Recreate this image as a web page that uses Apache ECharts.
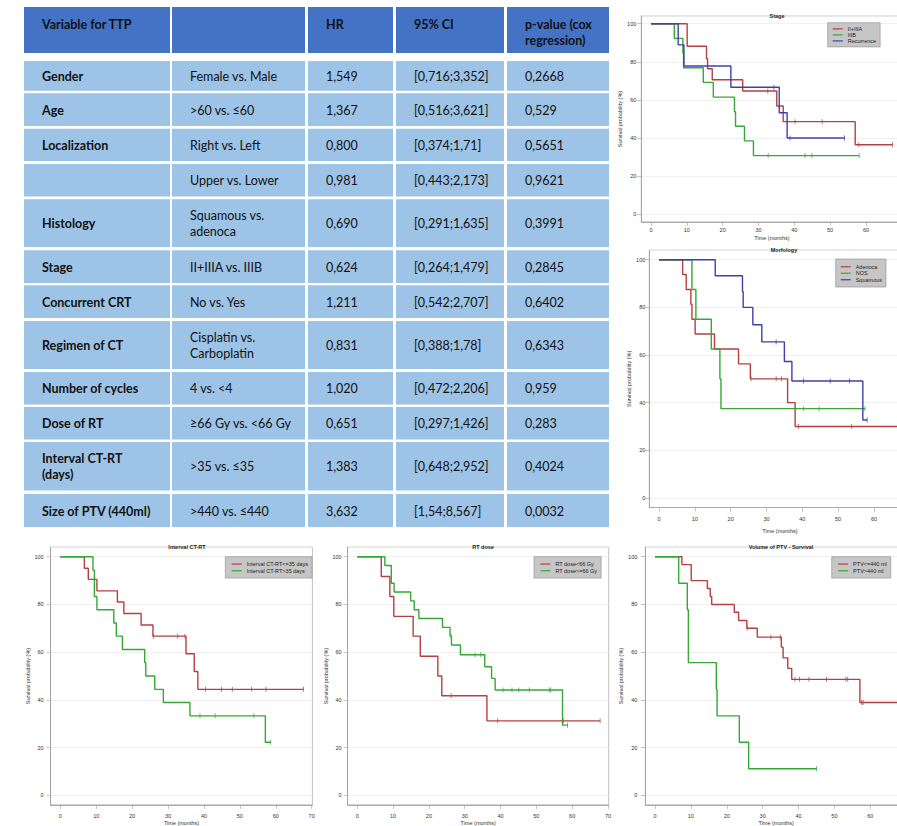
<!DOCTYPE html>
<html>
<head>
    <meta charset="utf-8">
    <title>TTP - Cox regression and Kaplan-Meier curves</title>
    <script src="https://cdn.jsdelivr.net/npm/echarts@6/dist/echarts.min.js"></script>
    <style>
        html, body { margin: 0; padding: 0; background: #fff; }
        #main { width: 897px; height: 826px; }
    </style>
</head>
<body>
<div id="main"></div>
<script type="text/javascript">
// ---- table data ----
var headers = ['Variable for TTP', '', 'HR', '95% CI', 'p-value (cox\nregression)'];
var variables = ['Gender', 'Age', 'Localization', '', 'Histology', 'Stage', 'Concurrent CRT',
    'Regimen of CT', 'Number of cycles', 'Dose of RT', 'Interval CT-RT\n(days)', 'Size of PTV (440ml)'];
var comparisons = ['Female vs. Male', '>60 vs. ≤60', 'Right vs. Left', 'Upper vs. Lower', 'Squamous vs.\nadenoca',
    'II+IIIA vs. IIIB', 'No vs. Yes', 'Cisplatin vs.\nCarboplatin', '4 vs. <4', '≥66 Gy vs. <66 Gy', '>35 vs. ≤35', '>440 vs. ≤440'];
var hrValues = ['1,549', '1,367', '0,800', '0,981', '0,690', '0,624', '1,211', '0,831', '1,020', '0,651', '1,383', '3,632'];
var ciValues = ['[0,716;3,352]', '[0,516;3,621]', '[0,374;1,71]', '[0,443;2,173]', '[0,291;1,635]', '[0,264;1,479]',
    '[0,542;2,707]', '[0,388;1,78]', '[0,472;2,206]', '[0,297;1,426]', '[0,648;2,952]', '[1,54;8,567]'];
var pValues = ['0,2668', '0,529', '0,5651', '0,9621', '0,3991', '0,2845', '0,6402', '0,6343', '0,959', '0,283', '0,4024', '0,0032'];

// ---- Kaplan-Meier curves [months, survival %] ----
// Stage
var stageIIA = [[0,100],[10.1,88.2],[15.5,81.6],[15.8,76.4],[17.1,70.6],[25.6,64.7],[35.1,56.8],[36.9,48.6],[57.0,36.5],[67.4,36.5]];
var stageIIACens = [[32.6,64.7],[40.2,48.6],[47.8,48.6],[58.0,36.5],[67.4,36.5]];
var stageIIIB = [[0,100],[6.5,92.3],[8.9,84.6],[9.1,76.9],[14.6,69.2],[17.4,61.5],[23.3,53.8],[23.6,46.2],[26.1,38.5],[28.6,30.8],[58.1,30.8]];
var stageIIIBCens = [[32.7,30.8],[43.0,30.8],[44.9,30.8],[58.1,30.8]];
var stageRec = [[0,100],[7.6,88.9],[9.2,77.8],[22.3,66.7],[35.8,53.3],[38.0,40.0],[54.0,40.0]];
var stageRecCens = [[34.3,66.7],[38.8,40.0],[54.0,40.0]];
// Morfology
var morfAdeno = [[0,100],[6.6,93.8],[7.6,87.5],[8.9,81.3],[9.2,75],[10.1,68.8],[15.5,62.5],[22.2,56.3],[25.5,50],[35.9,40],[38.0,30],[67.5,30]];
var morfAdenoCens = [[25.7,50],[32.7,50],[34.2,50],[38.9,30],[53.8,30]];
var morfNos = [[0,100],[9.2,87.5],[10.3,75],[14.6,62.5],[17.0,50],[17.3,37.5],[57.5,37.5]];
var morfNosCens = [[40.4,37.5],[44.7,37.5],[57.5,37.5]];
var morfSq = [[0,100],[15.7,93.3],[23.3,86.7],[23.5,80],[26.2,72.7],[28.7,65.5],[35.0,57.3],[37.1,49.1],[56.9,32.7],[58.1,32.7]];
var morfSqCens = [[32.7,65.5],[40.3,49.1],[47.8,49.1],[53.2,49.1],[58.1,32.7]];
// Interval CT-RT
var intShort = [[0,100],[6.7,95.2],[7.8,90.5],[10.2,85.7],[15.9,81],[17.7,76.2],[22.5,71.4],[25.8,66.7],[35.0,59.3],[37.3,51.9],[38.3,44.4],[67.7,44.4]];
var intShortCens = [[25.9,66.7],[32.7,66.7],[34.7,66.7],[40.4,44.4],[44.9,44.4],[47.9,44.4],[53.3,44.4],[57.3,44.4],[67.7,44.4]];
var intLong = [[0,100],[9.1,94.4],[9.5,83.3],[10.2,77.8],[14.9,72.2],[15.6,66.7],[17.3,61.1],[23.5,55.6],[23.8,50],[26.3,44.4],[28.7,38.9],[36.1,33.3],[57.1,22.2],[58.6,22.2]];
var intLongCens = [[38.9,33.3],[43.1,33.3],[53.9,33.3],[58.6,22.2]];
// RT dose
var doseLow = [[0,100],[6.7,91.7],[9.1,83.3],[10.2,75],[15.6,66.7],[17.6,58.3],[22.5,50],[23.6,41.7],[36.2,31.2],[67.8,31.2]];
var doseLowCens = [[26.2,41.7],[39.2,31.2],[57.5,31.2],[67.8,31.2]];
var doseHigh = [[0,100],[7.7,96.3],[9.5,88.9],[10.3,85.2],[14.9,81.5],[15.9,77.8],[17.2,74.1],[23.8,70.4],[25.9,66.7],[26.3,63],[28.8,58.9],[35.6,53.9],[37.5,49],[38.5,44.1],[57.3,29.4],[58.7,29.4]];
var doseHighCens = [[26.2,66.7],[32.9,58.9],[34.5,58.9],[40.7,44.1],[43.2,44.1],[45.1,44.1],[48.0,44.1],[53.6,44.1],[54.0,44.1],[58.7,29.4]];
// Volume of PTV
var ptvSmall = [[0,100],[7.5,96.7],[10.1,90],[14.6,86.7],[15.4,83.3],[15.8,80],[22.1,76.7],[23.3,73.3],[25.6,70],[28.5,66.3],[35.2,62.1],[35.7,57.6],[37.0,53.2],[38.1,48.6],[57.1,38.9],[67.5,38.9]];
var ptvSmallCens = [[25.7,70],[32.3,66.3],[34.9,66.3],[39.0,48.6],[40.3,48.6],[42.9,48.6],[47.8,48.6],[53.2,48.6],[53.7,48.6],[57.6,38.9],[58.0,38.9]];
var ptvLarge = [[0,100],[6.6,88.9],[9.0,77.8],[9.3,55.6],[17.1,44.4],[17.3,33.3],[23.5,22.2],[26.1,11.1],[45.0,11.1]];
var ptvLargeCens = [[45.0,11.1]];

var RED = '#b5403f', GREEN = '#35a835', BLUE = '#3f3fae';

var panels = [
    { title: 'Stage', tx: 772, ty: 11, grid: { left: 641.3, top: 16.1, width: 261.2, height: 205.8 },
      yGap: 16.5, yMargin: 5, xMargin: 5, xGap: 13, xLabelMax: 60,
      legend: { left: 827.7, top: 22.7, lh: 5.6, pad: [3.2, 4, 3, 5] },
      curves: [['II+IIIA', stageIIA, stageIIACens, RED], ['IIIB', stageIIIB, stageIIIBCens, GREEN], ['Recurrence', stageRec, stageRecCens, BLUE]] },
    { title: 'Morfology', tx: 779, ty: 245, grid: { left: 649.3, top: 250.2, width: 261.2, height: 257.3 },
      yGap: 16.5, yMargin: 4, xMargin: 8, xGap: 20, xLabelMax: 60,
      legend: { left: 835.7, top: 259, lh: 6.5, pad: [4.5, 4, 4, 5] },
      curves: [['Adenoca', morfAdeno, morfAdenoCens, RED], ['NOS', morfNos, morfNosCens, GREEN], ['Squamous', morfSq, morfSqCens, BLUE]] },
    { title: 'Interval CT-RT', tx: 182, ty: 542, grid: { left: 50.6, top: 547.2, width: 261.8, height: 257.6 },
      yGap: 17.5, yMargin: 7, xMargin: 8, xGap: 15.5, xLabelMax: 70,
      legend: { left: 225.3, top: 556.7, lh: 6.7, pad: [4, 4, 4, 6.4] },
      curves: [['Interval CT-RT<=35 days', intShort, intShortCens, RED], ['Interval CT-RT>35 days', intLong, intLongCens, GREEN]] },
    { title: 'RT dose', tx: 478, ty: 542, grid: { left: 347.6, top: 547.2, width: 261.1, height: 257.6 },
      yGap: 17, yMargin: 6, xMargin: 8, xGap: 15.5, xLabelMax: 70,
      legend: { left: 534, top: 556.7, lh: 6.7, pad: [4, 4, 4, 6.4] },
      curves: [['RT dose<66 Gy', doseLow, doseLowCens, RED], ['RT dose>=66 Gy', doseHigh, doseHighCens, GREEN]] },
    { title: 'Volume of PTV - Survival', tx: 776, ty: 542, grid: { left: 645.3, top: 547.2, width: 261.6, height: 257.6 },
      yGap: 17.5, yMargin: 8, xMargin: 8, xGap: 15.5, xLabelMax: 60,
      legend: { left: 831.7, top: 556.7, lh: 6.7, pad: [4, 4, 4, 6.4] },
      curves: [['PTV<=440 ml', ptvSmall, ptvSmallCens, RED], ['PTV>440 ml', ptvLarge, ptvLargeCens, GREEN]] }
];

var FS = 5.5;
var option = { animation: false, title: [], grid: [], xAxis: [], yAxis: [], legend: [], series: [] };

panels.forEach(function (p, i) {
    option.title.push({ text: p.title, left: p.tx, top: p.ty - 3.5, textAlign: 'center',
        textStyle: { fontSize: FS, fontWeight: 'bold', color: '#222', fontFamily: 'Liberation Sans' } });
    option.grid.push(Object.assign({ show: true, borderColor: '#b0b0b0', borderWidth: 0.8, containLabel: false, outerBoundsMode: 'none' }, p.grid));
    option.xAxis.push({
        type: 'value', gridIndex: i, min: -2.7, max: 70.2,
        name: 'Time (months)', nameLocation: 'middle', nameGap: p.xGap,
        nameTextStyle: { fontSize: FS, color: '#333', fontFamily: 'Liberation Sans' },
        axisLine: { show: true, onZero: false, lineStyle: { color: '#999', width: 0.8 } },
        axisTick: { show: true, length: 4, lineStyle: { color: '#aaa', width: 0.7 } },
        axisLabel: { fontSize: FS, color: '#333', margin: p.xMargin, showMinLabel: false, showMaxLabel: false, fontFamily: 'Liberation Sans',
            formatter: function (v) { return v > p.xLabelMax ? '' : String(v); } },
        splitLine: { show: false }
    });
    option.yAxis.push({
        type: 'value', gridIndex: i, min: -4, max: 104,
        name: 'Survival probability (%)', nameLocation: 'middle', nameGap: p.yGap,
        nameTextStyle: { fontSize: FS, color: '#333', fontFamily: 'Liberation Sans' },
        axisLine: { show: true, onZero: false, lineStyle: { color: '#999', width: 0.8 } },
        axisTick: { show: true, length: 4, lineStyle: { color: '#aaa', width: 0.7 } },
        axisLabel: { fontSize: FS, color: '#333', margin: p.yMargin, showMinLabel: false, showMaxLabel: false, fontFamily: 'Liberation Sans' },
        splitLine: { show: true, lineStyle: { color: '#ececec', width: 0.8 } }
    });
    option.legend.push({
        data: p.curves.map(function (c) { return c[0]; }),
        left: p.legend.left, top: p.legend.top, orient: 'vertical',
        backgroundColor: '#c6c6c6', borderColor: '#8c8c8c', borderWidth: 0.6, borderRadius: 0,
        padding: p.legend.pad, itemGap: 0, itemWidth: 10, itemHeight: 1.2, icon: 'rect',
        selectedMode: false,
        textStyle: { fontSize: FS, lineHeight: p.legend.lh, color: '#222', fontFamily: 'Liberation Sans' }
    });
    p.curves.forEach(function (c) {
        option.series.push({
            name: c[0], type: 'line', step: 'end', data: c[1], xAxisIndex: i, yAxisIndex: i,
            symbol: 'none', z: 3, lineStyle: { color: c[3], width: 1.4 }, itemStyle: { color: c[3] }
        });
        option.series.push({
            name: c[0], type: 'scatter', data: c[2], xAxisIndex: i, yAxisIndex: i,
            symbol: 'rect', symbolSize: [0.9, 5], z: 4, silent: true, itemStyle: { color: c[3] }
        });
    });
});

// ---- table drawn as graphic cells ----
var colLeft = [24, 172, 308, 396, 507];
var colRight = [170, 305, 393, 504, 609];
var textX = [42, 190, 326, 414, 525];
var headTop = 7, headBottom = 53;
var rowTop = [61, 93.3, 128.7, 164, 199.2, 250.2, 285.2, 321, 372, 407, 442, 494];
var rowBottom = [90.7, 126, 161, 196.5, 247, 283, 318, 369, 404.6, 439.5, 490.5, 527];
var els = [];
function addRow(cells, top, bottom, fill, boldCols, isHeader) {
    for (var c = 0; c < 5; c++) {
        els.push({ type: 'rect', shape: { x: colLeft[c], y: top, width: colRight[c] - colLeft[c], height: bottom - top },
            style: { fill: fill }, silent: true });
        if (cells[c]) {
            els.push({ type: 'text', x: textX[c], y: isHeader ? top + 9 : (top + bottom) / 2 + 0.5, silent: true,
                style: { text: cells[c], fill: '#111', fontFamily: 'Lato', fontSize: 12.5,
                    fontWeight: boldCols.indexOf(c) >= 0 ? 'bold' : 'normal',
                    lineHeight: 16, verticalAlign: isHeader ? 'top' : 'middle', align: 'left' } });
        }
    }
}
addRow(headers, headTop, headBottom, '#4472c4', [0, 1, 2, 3, 4], true);
for (var r = 0; r < variables.length; r++) {
    addRow([variables[r], comparisons[r], hrValues[r], ciValues[r], pValues[r]], rowTop[r], rowBottom[r], '#9dc3e6', [0], false);
}
option.graphic = { elements: els };

var myChart = echarts.init(document.getElementById('main'), null, { renderer: 'svg' });
myChart.setOption(option);
</script>
</body>
</html>
